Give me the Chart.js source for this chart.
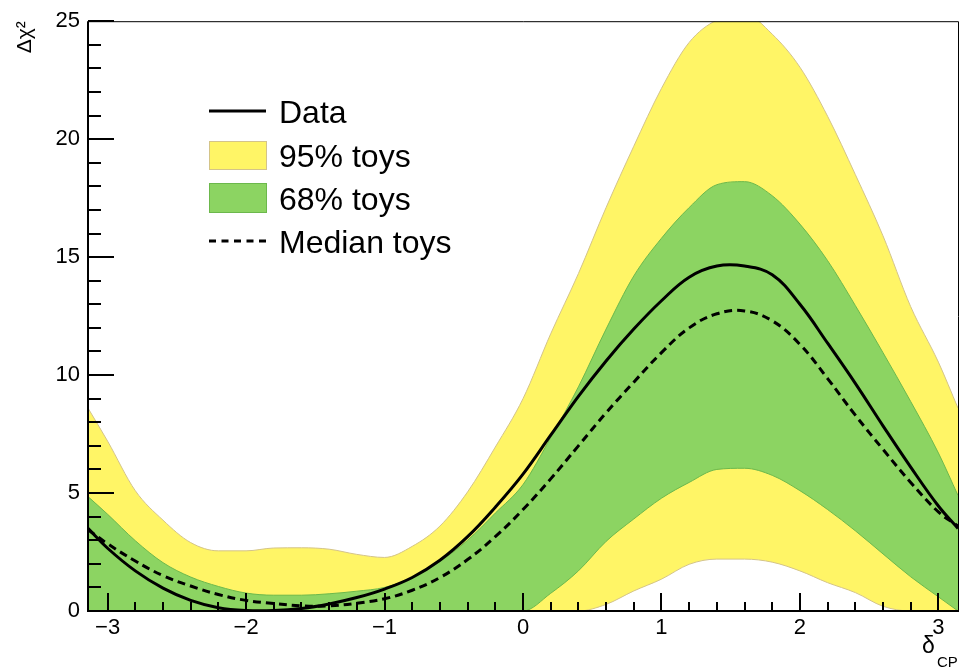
<!DOCTYPE html>
<html>
<head>
<meta charset="utf-8">
<script src="https://cdn.jsdelivr.net/npm/chart.js@4.4.0/dist/chart.umd.min.js"></script>
<style>
  html, body { margin: 0; padding: 0; background: #fff; }
  canvas { display: block; }
</style>
</head>
<body>
<canvas id="c" width="960" height="671"></canvas>
<script>
// ---------------- data ----------------
const deltaCP = [-3.14159, -3.0, -2.8, -2.6, -2.4, -2.2, -2.0, -1.8, -1.6, -1.4, -1.2, -1.0,
                 -0.8, -0.6, -0.4, -0.2, 0.0, 0.2, 0.4, 0.6, 0.8, 1.0, 1.2, 1.4, 1.6, 1.8,
                 2.0, 2.2, 2.4, 2.6, 2.8, 3.0, 3.14159];

const dataChi2 = [3.5, 2.66, 1.7, 0.97, 0.45, 0.14, 0.02, 0.02, 0.11, 0.3, 0.57, 0.93,
                  1.42, 2.15, 3.15, 4.4, 5.8, 7.45, 9.1, 10.6, 11.95, 13.15, 14.15, 14.62, 14.62, 14.25,
                  13.0, 11.35, 9.65, 7.85, 6.1, 4.45, 3.5];

const medianToys = [3.45, 2.85, 2.12, 1.5, 1.06, 0.7, 0.45, 0.32, 0.22, 0.22, 0.33, 0.52,
                    0.88, 1.42, 2.18, 3.15, 4.3, 5.6, 7.0, 8.4, 9.7, 10.95, 12.0, 12.6, 12.72, 12.3,
                    11.3, 9.85, 8.3, 6.85, 5.45, 4.2, 3.6];

const band95Upper = [8.6, 7.2, 5.1, 3.85, 2.9, 2.55, 2.55, 2.67, 2.68, 2.62, 2.4, 2.27,
                     2.74, 3.6, 5.05, 6.95, 9.0, 11.75, 14.3, 17.1, 19.7, 22.15, 24.1, 25.05, 25.3, 24.45,
                     23.05, 20.97, 18.5, 15.9, 12.9, 10.55, 8.6];

const band95Lower = [0, 0, 0, 0, 0, 0, 0, 0, 0, 0, 0, 0,
                     0, 0, 0, 0, 0, 0, 0, 0.28, 0.85, 1.35, 1.98, 2.2, 2.2, 2.07,
                     1.7, 1.2, 0.78, 0.2, 0, 0, 0];

const band68Upper = [4.85, 4.1, 2.98, 2.05, 1.44, 1.04, 0.76, 0.67, 0.67, 0.73, 0.84, 1.0,
                     1.42, 2.1, 3.0, 4.15, 5.36, 7.35, 9.5, 11.95, 14.2, 15.8, 17.1, 18.07, 18.2, 17.6,
                     16.4, 14.85, 12.95, 10.95, 8.88, 6.7, 4.9];

const band68Lower = [0, 0, 0, 0, 0, 0, 0, 0, 0, 0, 0, 0,
                     0, 0, 0, 0, 0, 0.75, 1.7, 2.95, 3.9, 4.78, 5.45, 6.0, 6.05, 5.75,
                     5.1, 4.3, 3.4, 2.42, 1.45, 0.6, 0];

const xRange = [-3.14159, 3.14159];
const yRange = [0, 25];
const xMajorTicks = [-3, -2, -1, 0, 1, 2, 3];
const yMajorTicks = [0, 5, 10, 15, 20, 25];
const xMinorStep = 0.2;
const yMinorStep = 1;

const legendLabels = ['Data', '95% toys', '68% toys', 'Median toys'];
const yTitle = 'Δχ²';
const xTitleMain = 'δ';
const xTitleSub = 'CP';

// ---------------- styles ----------------
const YELLOW = '#fff566';
const YELLOW_EDGE = '#d4c489';
const GREEN = '#8cd462';
const GREEN_EDGE = '#6cb84c';
const FONT = "'Liberation Sans', Arial, sans-serif";

const pts = arr => arr.map((v, i) => ({ x: deltaCP[i], y: v }));

const bandStyle = (color, edge, fill, order) => ({
  borderColor: edge, borderWidth: 1, backgroundColor: color, fill: fill,
  pointRadius: 0, cubicInterpolationMode: 'monotone', clip: 0, order: order
});

const datasets = [
  Object.assign({ label: '95% toys', data: pts(band95Upper) }, bandStyle(YELLOW, YELLOW_EDGE, '+1', 6)),
  Object.assign({ label: '95% toys low', data: pts(band95Lower) }, bandStyle(YELLOW, YELLOW_EDGE, false, 5)),
  Object.assign({ label: '68% toys', data: pts(band68Upper) }, bandStyle(GREEN, GREEN_EDGE, '+1', 4)),
  Object.assign({ label: '68% toys low', data: pts(band68Lower) }, bandStyle(GREEN, GREEN_EDGE, false, 3)),
  { label: 'Median toys', data: pts(medianToys), borderColor: '#000', borderWidth: 3,
    borderDash: [8, 5], fill: false, pointRadius: 0, tension: 0.4, order: 2 },
  { label: 'Data', data: pts(dataChi2), borderColor: '#000', borderWidth: 3,
    fill: false, pointRadius: 0, tension: 0.4, order: 1 }
];

const fmt = v => (v < 0 ? '\u2212' + Math.abs(v) : String(v));

// ticks inside the frame, frame, legend and x title
const decorations = {
  id: 'decorations',
  afterDatasetsDraw(chart) {
    const { ctx, chartArea: a, scales: { x, y } } = chart;
    ctx.save();
    // ticks
    ctx.strokeStyle = '#000';
    ctx.lineWidth = 2;
    ctx.beginPath();
    for (let v = yRange[0]; v <= yRange[1] + 1e-9; v += yMinorStep) {
      const py = Math.round(y.getPixelForValue(v));
      const major = yMajorTicks.some(t => Math.abs(t - v) < 1e-6);
      ctx.moveTo(a.left, py);
      ctx.lineTo(a.left + (major ? 26 : 13), py);
    }
    const first = Math.ceil(xRange[0] / xMinorStep) * xMinorStep;
    for (let v = first; v <= xRange[1] + 1e-9; v += xMinorStep) {
      const vv = Math.round(v * 10) / 10;
      const px = Math.round(x.getPixelForValue(vv));
      const major = xMajorTicks.some(t => Math.abs(t - vv) < 1e-6);
      ctx.moveTo(px, a.bottom);
      ctx.lineTo(px, a.bottom - (major ? 18 : 9));
    }
    ctx.stroke();
    // frame
    ctx.lineWidth = 1;
    ctx.beginPath();
    ctx.moveTo(a.left, a.top + 0.5);
    ctx.lineTo(a.right + 0.5, a.top + 0.5);
    ctx.lineTo(a.right + 0.5, a.bottom);
    ctx.stroke();
    ctx.lineWidth = 2;
    ctx.beginPath();
    ctx.moveTo(a.left, a.top);
    ctx.lineTo(a.left, a.bottom);
    ctx.lineTo(a.right + 1, a.bottom);
    ctx.stroke();

    // legend
    const lx = 209, lw = 57, tx = 279;
    const rows = [111, 155.5, 198, 241];
    ctx.font = '32px ' + FONT;
    ctx.fillStyle = '#000';
    ctx.textBaseline = 'alphabetic';
    ctx.textAlign = 'left';
    // Data
    ctx.strokeStyle = '#000'; ctx.lineWidth = 3; ctx.setLineDash([]);
    ctx.beginPath(); ctx.moveTo(lx, rows[0]); ctx.lineTo(lx + lw, rows[0]); ctx.stroke();
    // 95%
    ctx.fillStyle = YELLOW; ctx.fillRect(lx, rows[1] - 14.5, lw + 1, 29);
    ctx.strokeStyle = YELLOW_EDGE; ctx.lineWidth = 1;
    ctx.strokeRect(lx + 0.5, rows[1] - 14.5 + 0.5, lw, 28);
    // 68%
    ctx.fillStyle = GREEN; ctx.fillRect(lx, rows[2] - 15, lw + 1, 30);
    ctx.strokeStyle = GREEN_EDGE;
    ctx.strokeRect(lx + 0.5, rows[2] - 15 + 0.5, lw, 29);
    // Median
    ctx.strokeStyle = '#000'; ctx.lineWidth = 3; ctx.setLineDash([7, 5.5]);
    ctx.beginPath(); ctx.moveTo(lx, rows[3]); ctx.lineTo(lx + lw, rows[3]); ctx.stroke();
    ctx.setLineDash([]);
    ctx.fillStyle = '#000';
    legendLabels.forEach((t, i) => ctx.fillText(t, tx, rows[i] + 11.5));

    // x axis title
    ctx.textAlign = 'left';
    ctx.font = '23px ' + FONT;
    ctx.fillText(xTitleMain, 922, 653);
    ctx.font = '15px ' + FONT;
    ctx.fillText(xTitleSub, 937, 667);
    ctx.restore();
  }
};

new Chart(document.getElementById('c'), {
  type: 'line',
  data: { datasets },
  options: {
    responsive: false,
    animation: false,
    layout: { padding: { left: 0, right: 2, top: 17, bottom: 0 } },
    plugins: { legend: { display: false }, tooltip: { enabled: false } },
    scales: {
      x: {
        type: 'linear', min: xRange[0], max: xRange[1],
        grid: { display: false, drawTicks: false }, border: { display: false },
        afterBuildTicks: s => { s.ticks = xMajorTicks.map(v => ({ value: v })); },
        afterFit: s => { s.height = 60; },
        ticks: { color: '#000', font: { family: FONT, size: 22 }, padding: 4,
                 maxRotation: 0, autoSkip: false, callback: v => fmt(v) }
      },
      y: {
        type: 'linear', min: yRange[0], max: yRange[1],
        grid: { display: false, drawTicks: false }, border: { display: false },
        afterBuildTicks: s => { s.ticks = yMajorTicks.map(v => ({ value: v })); },
        afterFit: s => { s.width = 88; },
        ticks: { color: '#000', font: { family: FONT, size: 22 }, padding: 8, callback: v => fmt(v) },
        title: { display: true, text: yTitle, align: 'end', color: '#000',
                 font: { family: FONT, size: 21 }, padding: { top: 13, bottom: 0 } }
      }
    }
  },
  plugins: [decorations]
});
</script>
</body>
</html>
